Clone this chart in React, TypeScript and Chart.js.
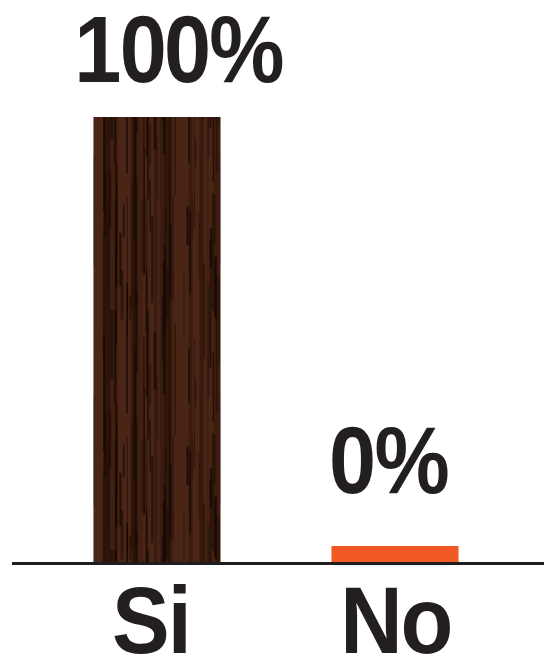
import React, { useEffect, useRef } from "react";
import { Chart, registerables } from "chart.js";

Chart.register(...registerables);

const categories = ["Si", "No"];
const values = [100, 0];
const valueLabels = ["100%", "0%"];
const barColors = ["wood", "#f15a24"];

function makeWoodPattern(ctx: CanvasRenderingContext2D): CanvasPattern | string {
  const c = document.createElement("canvas");
  c.width = 128;
  c.height = 240;
  const g = c.getContext("2d");
  if (!g) return "#42200f";
  g.fillStyle = "#4a2515";
  g.fillRect(0, 0, c.width, c.height);
  let s = 98765;
  const rnd = () => {
    s = (s * 1103515245 + 12345) % 2147483648;
    return s / 2147483648;
  };
  for (let i = 0; i < 20; i++) {
    const x = rnd() * c.width;
    g.fillStyle = `rgba(30,12,5,${0.15 + rnd() * 0.25})`;
    g.fillRect(x, 0, 2 + rnd() * 6, c.height);
  }
  for (let i = 0; i < 60; i++) {
    const x = rnd() * c.width;
    const y = rnd() * c.height;
    const w = 0.8 + rnd() * 2;
    const h = 20 + rnd() * 120;
    g.fillStyle = `rgba(15,6,2,${0.3 + rnd() * 0.45})`;
    g.fillRect(x, y, w, h);
    if (y + h > c.height) g.fillRect(x, y - c.height, w, h);
  }
  return ctx.createPattern(c, "repeat") || "#42200f";
}

const valueLabelGaps = [35, 53];
const valueLabelShift = [24, -5];
const categoryLabelShift = [-7, 3];
const textColor = "#231f20";
const labelFont = "bold 94px 'Liberation Sans', Arial, sans-serif";

function drawInkText(
  ctx: CanvasRenderingContext2D,
  text: string,
  cx: number,
  baseline: number,
  gap: number,
  sx: number
) {
  const chars = Array.from(text);
  const boxes = chars.map((ch) => {
    const m = ctx.measureText(ch);
    return { ch, left: m.actualBoundingBoxLeft * sx, right: m.actualBoundingBoxRight * sx };
  });
  const total = boxes.reduce((a, b) => a + b.left + b.right, 0) + gap * (chars.length - 1);
  let x = cx - total / 2;
  ctx.textAlign = "left";
  boxes.forEach((b) => {
    ctx.save();
    ctx.translate(x + b.left, baseline);
    ctx.scale(sx, 1);
    ctx.fillText(b.ch, 0, 0);
    ctx.restore();
    x += b.left + b.right + gap;
  });
}

const overlayPlugin = {
  id: "overlay",
  afterDatasetsDraw(chart: any) {
    const ctx = chart.ctx as CanvasRenderingContext2D;
    const xScale = chart.scales.x;
    const yScale = chart.scales.y;
    const base = yScale.getPixelForValue(0);
    ctx.save();
    ctx.fillStyle = "#1e1e1e";
    ctx.fillRect(12, base, chart.width - 12, 3);
    ctx.restore();

    const meta = chart.getDatasetMeta(0);
    ctx.save();
    ctx.fillStyle = textColor;
    ctx.textBaseline = "alphabetic";
    ctx.font = labelFont;
    meta.data.forEach((bar: any, i: number) => {
      drawInkText(ctx, valueLabels[i], bar.x + valueLabelShift[i], bar.y - valueLabelGaps[i], 3, 0.9);
    });
    categories.forEach((c, i) => {
      const x = xScale.getPixelForValue(i);
      drawInkText(ctx, c, x + categoryLabelShift[i], 653, 6, 0.92);
    });
    ctx.restore();
  },
};

export default function App() {
  const ref = useRef<HTMLCanvasElement>(null);
  useEffect(() => {
    if (!ref.current) return;
    const ctx = ref.current.getContext("2d")!;
    const wood = makeWoodPattern(ctx);
    const chart = new Chart(ref.current, {
      type: "bar",
      data: {
        labels: categories,
        datasets: [
          {
            data: values,
            backgroundColor: barColors.map((c) => (c === "wood" ? wood : c)) as any,
            borderWidth: 0,
            minBarLength: 16,
            barPercentage: 0.534,
            categoryPercentage: 1,
          },
        ],
      },
      options: {
        animation: false,
        responsive: true,
        maintainAspectRatio: false,
        layout: { padding: { left: 38, right: 30, top: 117, bottom: 95 } },
        plugins: {
          legend: { display: false },
          tooltip: { enabled: false },
        },
        scales: {
          x: { display: false },
          y: { display: false, min: 0, max: 100 },
        },
      },
      plugins: [overlayPlugin],
    });
    return () => chart.destroy();
  }, []);
  return (
    <div style={{ position: "absolute", left: 0, top: 0, width: 544, height: 657, background: "#fff" }}>
      <canvas ref={ref} />
    </div>
  );
}
